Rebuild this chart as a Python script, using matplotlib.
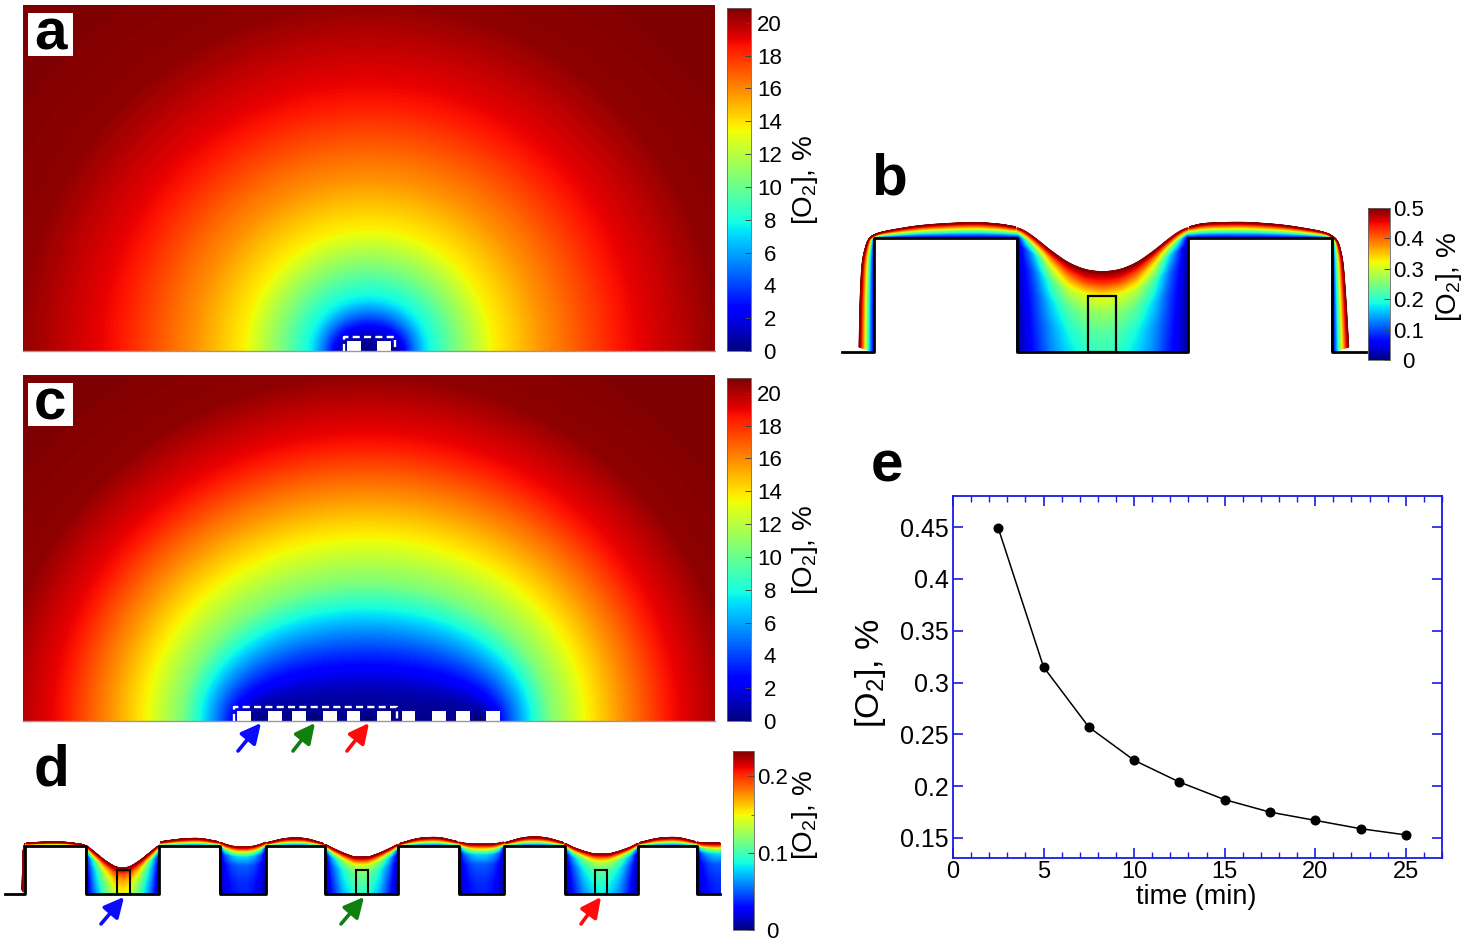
"""
Oxygen maps around the cell clusters (a-d) and the oxygen decay with time (e).
"""
import numpy as np
import matplotlib
matplotlib.use("Agg")
import matplotlib.pyplot as plt
from matplotlib.colors import Normalize
from matplotlib.cm import ScalarMappable
from matplotlib.patches import Rectangle

plt.rcParams["font.family"] = ["Liberation Sans", "DejaVu Sans"]
plt.rcParams["mathtext.default"] = "regular"

O2_LABEL = "[O$_2$], %"

# panel a and c: oxygen read along a line going away from the source
a_dist = [0, 25, 29, 34, 45, 57, 88, 124, 173, 252, 350, 450]
a_o2 = [0.3, 0.3, 1, 2.3, 5, 7.4, 10.5, 13.6, 15.75, 18.6, 20.6, 20.9]
c_dist = [0, 122, 126, 132, 148, 163, 184, 221, 255, 303, 367, 450]
c_o2 = [0.3, 0.3, 1, 2.3, 5, 7.4, 10.5, 13.6, 15.75, 18.6, 20.6, 20.9]

a_wells = [(347, 361), (377, 391)]
c_wells = [(237, 251), (268, 282), (292, 306), (323, 337), (347, 360),
           (377, 391), (402, 415), (432, 446), (456, 470), (486, 500)]
c_cells = [259, 314, 368, 423, 478]

# panel b: values from the cell surface (row 0) to the film surface (last row)
b_rows = [0, 0.25, 0.5, 0.7, 0.85, 0.93, 1]
b_cols = [0, 0.04, 0.1, 0.2, 0.3, 0.4, 0.5]
b_top = [227, 230, 237, 251, 263, 270, 272]
b_well = [
    [0.01, 0.01, 0.01, 0.01, 0.01, 0.03, 0.5],
    [0.04, 0.04, 0.05, 0.06, 0.08, 0.18, 0.5],
    [0.07, 0.08, 0.09, 0.11, 0.16, 0.28, 0.5],
    [0.13, 0.14, 0.17, 0.22, 0.31, 0.39, 0.5],
    [0.17, 0.19, 0.23, 0.29, 0.38, 0.44, 0.5],
    [0.20, 0.22, 0.26, 0.31, 0.41, 0.46, 0.5],
    [0.21, 0.23, 0.27, 0.32, 0.42, 0.46, 0.5],
]
strip_rows = [0, 0.25, 0.5, 0.75, 1]
strip_vals = [0.03, 0.12, 0.25, 0.38, 0.5]

# panel d
d_rows = [0, 0.3, 0.6, 0.8, 0.9, 1]
d_cols = [0, 0.1, 0.25, 0.4, 0.5]
d_deep1 = [
    [0.01, 0.01, 0.02, 0.03, 0.08, 0.23],
    [0.05, 0.06, 0.07, 0.09, 0.15, 0.23],
    [0.10, 0.11, 0.13, 0.16, 0.19, 0.23],
    [0.14, 0.15, 0.17, 0.19, 0.21, 0.23],
    [0.15, 0.16, 0.175, 0.195, 0.215, 0.23],
]
d_deep2 = [
    [0.005, 0.005, 0.01, 0.015, 0.05, 0.23],
    [0.035, 0.04, 0.05, 0.07, 0.12, 0.23],
    [0.07, 0.08, 0.09, 0.12, 0.16, 0.23],
    [0.09, 0.10, 0.115, 0.14, 0.18, 0.23],
    [0.095, 0.105, 0.12, 0.145, 0.185, 0.23],
]
d_deep3 = [
    [0.005, 0.005, 0.01, 0.015, 0.05, 0.23],
    [0.03, 0.035, 0.045, 0.065, 0.11, 0.23],
    [0.06, 0.07, 0.085, 0.11, 0.15, 0.23],
    [0.08, 0.09, 0.105, 0.13, 0.17, 0.23],
    [0.085, 0.095, 0.11, 0.135, 0.175, 0.23],
]
d_small = [
    [0.005, 0.005, 0.008, 0.01, 0.03, 0.23],
    [0.02, 0.025, 0.03, 0.05, 0.10, 0.23],
    [0.03, 0.035, 0.045, 0.07, 0.13, 0.23],
    [0.035, 0.04, 0.05, 0.08, 0.14, 0.23],
    [0.035, 0.04, 0.05, 0.08, 0.14, 0.23],
]
d_edges = [25, 86, 159, 220, 266, 325, 398, 459, 504, 565, 638, 697, 720]
d_well_tops = [
    [845, 851, 860, 867, 868],
    [842, 844, 846, 847, 847],
    [844, 848, 853, 857, 857],
    [842, 843, 844, 844, 844],
    [843, 847, 851, 854, 854],
    [842, 843, 843, 843, 843],
]
d_block_tops = [[843, 842, 842, 845], [842, 839, 838, 842], [843, 838, 838, 844],
                [844, 838, 837, 842], [843, 837, 837, 843], [843, 838, 837, 842]]
d_cells = [(117, 130), (356, 368), (595, 607)]

# panel e
time_min = [2.5, 5, 7.5, 10, 12.5, 15, 17.5, 20, 22.5, 25]
o2_percent = [0.449, 0.315, 0.257, 0.225, 0.204, 0.187, 0.175, 0.167, 0.159, 0.153]
e_xticks = [0, 5, 10, 15, 20, 25]
e_yticks = [0.15, 0.2, 0.25, 0.3, 0.35, 0.4, 0.45]
e_ylabels = ["0.15", "0.2", "0.25", "0.3", "0.35", "0.4", "0.45"]

W, H = 1475, 941


def px_axes(fig, x0, y0, x1, y1):
    return fig.add_axes([x0 / W, 1 - y1 / H, (x1 - x0) / W, (y1 - y0) / H])


def smooth(values, width):
    pad = width // 2
    padded = np.r_[np.full(pad, values[0]), values, np.full(pad, values[-1])]
    return np.convolve(padded, np.ones(width) / width, mode="valid")


'''
Field of a strip shaped source: the value only depends on the size of the
ellipse going through the pixel, and comes from the profile read on the picture.
'''
def draw_field(ax, x0, y0, x1, y1, xc, focus, dist, o2):
    xs, ys = np.meshgrid(np.arange(x0, x1) + 0.5, np.arange(y0, y1) + 0.5)
    d1 = np.hypot(xs - xc + focus, ys - y1)
    d2 = np.hypot(xs - xc - focus, ys - y1)
    field = np.interp((d1 + d2) / 2, dist, o2)
    ax.imshow(field, extent=(x0, x1, y1, y0), cmap="jet", vmin=0, vmax=20.9,
              aspect="auto", interpolation="bilinear", zorder=1)
    ax.plot([x0, x1], [y1, y1], color="#999999", lw=1, zorder=3)


def draw_wells(ax, wells, top, bottom):
    for x0, x1 in wells:
        ax.add_patch(Rectangle((x0, top), x1 - x0, bottom - top, fc="white", ec="none", zorder=2))


def dashed_box(ax, x0, y0, x1, y1):
    ax.plot([x0, x0, x1, x1], [y1, y0, y0, y1], color="white", lw=1.7,
            ls=(0, (3, 1.8)), zorder=3)


'''
The tables are coarse, so they are resampled on a fine mesh before drawing.
'''
def draw_well(ax, x0, x1, base, tops, cols, rows, values, vmax, half=False):
    cols = np.array(cols, dtype=float)
    vals = np.array(values, dtype=float)
    tops = np.array(tops, dtype=float)
    if half:
        xf = cols * 2
    else:
        xf = np.r_[cols, 1 - cols[-2::-1]]
        vals = np.vstack([vals, vals[-2::-1]])
        tops = np.r_[tops, tops[-2::-1]]
    fine_x = np.linspace(0, 1, 241)
    fine_r = np.linspace(0, 1, 121)
    fine_top = smooth(np.interp(fine_x, xf, tops), 21)
    by_x = np.array([smooth(np.interp(fine_x, xf, vals[:, j]), 11) for j in range(vals.shape[1])])
    Z = np.array([np.interp(fine_r, rows, by_x[:, i]) for i in range(len(fine_x))]).T
    X = np.repeat((x0 + fine_x * (x1 - x0))[None, :], len(fine_r), axis=0)
    Y = base + np.outer(fine_r, fine_top - base)
    ax.pcolormesh(X, Y, Z, cmap="jet", vmin=0, vmax=vmax, shading="gouraud", zorder=1)


def draw_strip(ax, inner, outer, rows, vals, vmax):
    inner = np.array(inner, dtype=float)
    outer = np.array(outer, dtype=float)
    idx = np.arange(len(inner))
    t = np.linspace(0, len(inner) - 1, 40 * (len(inner) - 1) + 1)
    in_x, in_y = np.interp(t, idx, inner[:, 0]), np.interp(t, idx, inner[:, 1])
    out_x = smooth(np.interp(t, idx, outer[:, 0]), 31)
    out_y = smooth(np.interp(t, idx, outer[:, 1]), 31)
    fine_r = np.linspace(0, 1, 41)
    X = in_x + np.outer(fine_r, out_x - in_x)
    Y = in_y + np.outer(fine_r, out_y - in_y)
    Z = np.repeat(np.interp(fine_r, rows, vals)[:, None], len(t), axis=1)
    ax.pcolormesh(X, Y, Z, cmap="jet", vmin=0, vmax=vmax, shading="gouraud", zorder=1)


def add_colorbar(fig, box, vmax, ticks, labels, minor, label, label_xy):
    cax = px_axes(fig, *box)
    cb = fig.colorbar(ScalarMappable(Normalize(0, vmax), "jet"), cax=cax)
    cb.set_ticks(ticks, labels=labels)
    cb.set_ticks(minor, minor=True)
    cb.outline.set_linewidth(0.6)
    cb.outline.set_edgecolor("#666666")
    cax.tick_params(which="major", direction="in", length=4, width=0.7, color="#444444",
                    labelsize=16, pad=13.5)
    cax.tick_params(which="minor", direction="in", length=2, width=0.6, color="#444444")
    for t in cax.get_yticklabels():
        t.set_ha("center")
    fig.text(label_xy[0] / W, 1 - label_xy[1] / H, label, rotation=90, fontsize=20,
             ha="center", va="center")


def panel_letter(ax, letter, x, y, box=False):
    if box:
        ax.add_patch(Rectangle((28, y - 21), 45, 43, fc="white", ec="none", zorder=4))
    ax.text(x, y, letter, fontsize=42, fontweight="bold", ha="center", va="center", zorder=5)


def arrow(ax, tail, head, color):
    ax.annotate("", xy=head, xytext=tail, zorder=6,
                arrowprops=dict(arrowstyle="-|>,head_length=0.6,head_width=0.3", color=color,
                                lw=2.6, mutation_scale=20, shrinkA=0, shrinkB=0))


def plot_maps(fig):
    ax = fig.add_axes([0, 0, 1, 1])
    ax.set_xlim(0, W)
    ax.set_ylim(H, 0)
    ax.axis("off")

    # a
    draw_field(ax, 23, 5, 715, 351, 369, 25, a_dist, a_o2)
    draw_wells(ax, a_wells, 341, 351)
    dashed_box(ax, 344, 337, 395, 351)
    panel_letter(ax, "a", 50, 34, box=True)

    # c
    draw_field(ax, 23, 375, 715, 721, 366, 122, c_dist, c_o2)
    draw_wells(ax, c_wells, 711, 721)
    for xc in c_cells:
        ax.add_patch(Rectangle((xc - 2, 715), 4, 6, fc="none", ec="#000050", lw=0.6, zorder=2))
    dashed_box(ax, 234, 707, 397, 721)
    panel_letter(ax, "c", 50, 404, box=True)
    arrow(ax, (238, 751), (261, 723), "#0a0aff")
    arrow(ax, (293, 751), (315, 723), "#0f7f0f")
    arrow(ax, (347, 751), (369, 723), "#ff0a0a")

    # b
    draw_well(ax, 1017, 1188, 352, b_top, b_cols, b_rows, b_well, 0.5)
    draw_strip(ax,
               [(874, 352), (874, 300), (874, 260), (874, 238), (880, 238), (921, 238), (974, 238), (1000, 238), (1017, 238)],
               [(859, 352), (860, 300), (862, 260), (868, 238), (880, 232), (921, 225), (974, 222), (1000, 224), (1017, 227)],
               strip_rows, strip_vals, 0.5)
    draw_strip(ax,
               [(1188, 238), (1204, 238), (1245, 238), (1285, 238), (1326, 238), (1332, 238), (1332, 260), (1332, 300), (1332, 352)],
               [(1188, 227), (1204, 223), (1245, 222), (1285, 225), (1326, 232), (1338, 240), (1343, 260), (1346, 300), (1349, 352)],
               strip_rows, strip_vals, 0.5)
    ax.plot([842, 874, 874, 1017, 1017, 1188, 1188, 1332, 1332, 1366],
            [352, 352, 238, 238, 352, 352, 238, 238, 352, 352], color="black", lw=2, zorder=3)
    ax.add_patch(Rectangle((1088, 296), 28, 56, fc="none", ec="black", lw=1.6, zorder=3))
    panel_letter(ax, "b", 889, 179)

    # d
    base, block_y = 894, 846
    draw_strip(ax, [(25, 894), (25, 850), (25, 846)], [(22, 894), (23, 850), (25, 843)],
               strip_rows, [0.05, 0.12, 0.2, 0.22, 0.23], 0.233)
    for i in range(6):
        x0, x1 = d_edges[2 * i], d_edges[2 * i + 1]
        xs = np.linspace(x0, x1, 4)
        inner = [(x, block_y) for x in xs]
        outer = list(zip(xs, d_block_tops[i]))
        draw_strip(ax, inner, outer, strip_rows, [0.02, 0.07, 0.13, 0.19, 0.23], 0.233)
    well_tables = [d_deep1, d_small, d_deep2, d_small, d_deep3, d_small]
    for i in range(6):
        x0, x1 = d_edges[2 * i + 1], d_edges[2 * i + 2]
        draw_well(ax, x0, x1, base, d_well_tops[i], d_cols, d_rows, well_tables[i], 0.233, half=(i == 5))
    xs = [5, 25, 25]
    ys = [base, base, block_y]
    for i in range(6):
        x0, x1 = d_edges[2 * i + 1], d_edges[2 * i + 2]
        xs += [x0, x0, x1, x1]
        ys += [block_y, base, base, block_y]
    ax.plot(xs[:-1], ys[:-1], color="black", lw=2, zorder=3)
    for x0, x1 in d_cells:
        ax.add_patch(Rectangle((x0, 870), x1 - x0, 24, fc="none", ec="black", lw=1.5, zorder=3))
    panel_letter(ax, "d", 51, 771)
    arrow(ax, (101, 924), (124, 897), "#0a0aff")
    arrow(ax, (341, 924), (364, 897), "#0f7f0f")
    arrow(ax, (581, 924), (601, 897), "#ff0a0a")
    panel_letter(ax, "e", 887, 466)


def plot_decay(fig):
    ax = px_axes(fig, 953, 496, 1442, 858)
    ax.plot(time_min, o2_percent, color="black", lw=1.1, marker="o", ms=6.2)
    ax.set_xlim(0, 27)
    ax.set_ylim(0.1307, 0.48)
    ax.set_xticks(e_xticks)
    ax.set_xticks(range(0, 28), minor=True)
    ax.set_yticks(e_yticks, labels=e_ylabels)
    ax.tick_params(which="major", direction="in", length=7, width=1.2, color="#1a1ae6",
                   top=True, right=True, labelsize=18, pad=3)
    ax.tick_params(axis="x", which="major", labelsize=17, pad=2)
    ax.tick_params(which="minor", direction="in", length=4, width=1.0, color="#1a1ae6",
                   top=True, right=True)
    for spine in ax.spines.values():
        spine.set_color("#1a1ae6")
        spine.set_linewidth(1.3)
    fig.text(1196 / W, 1 - 897 / H, "time (min)", fontsize=19.5, ha="center", va="center")
    fig.text(870 / W, 1 - 673 / H, O2_LABEL, fontsize=24.5, rotation=90, ha="center", va="center")


def main():
    fig = plt.figure(figsize=(W / 100, H / 100), dpi=100)
    plot_maps(fig)
    plot_decay(fig)
    t20 = list(range(0, 21, 2))
    add_colorbar(fig, (727, 8, 751, 351), 20.9, t20, [str(t) for t in t20], [], O2_LABEL, (805, 180))
    add_colorbar(fig, (727, 378, 751, 721), 20.9, t20, [str(t) for t in t20], [], O2_LABEL, (805, 550))
    t5 = [0, 0.1, 0.2, 0.3, 0.4, 0.5]
    add_colorbar(fig, (1368, 208, 1390, 360), 0.5, t5, ["0", "0.1", "0.2", "0.3", "0.4", "0.5"], [],
                 O2_LABEL, (1449, 277))
    add_colorbar(fig, (733, 751, 754, 930), 0.233, [0, 0.1, 0.2], ["0", "0.1", "0.2"], [0.05, 0.15],
                 O2_LABEL, (805, 815))
    fig.savefig("out.png", dpi=100)
    plt.close(fig)


if __name__ == "__main__":
    main()
